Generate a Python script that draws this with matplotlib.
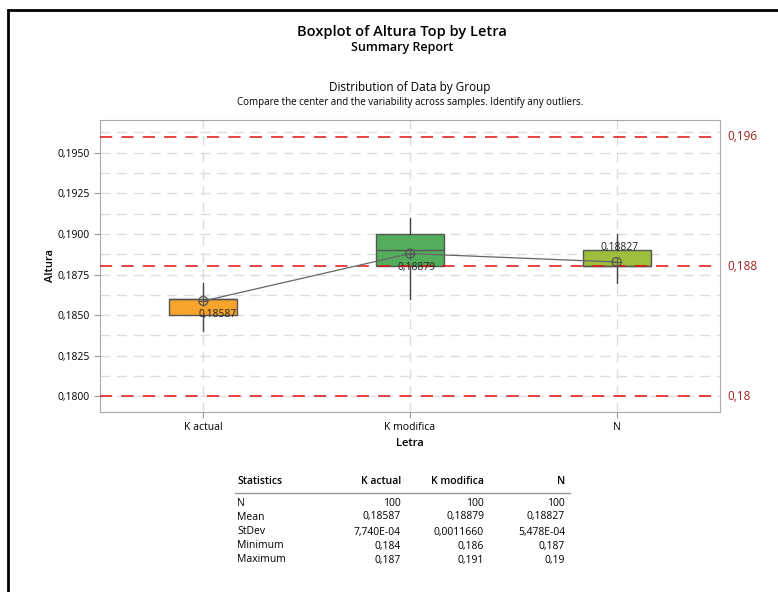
import matplotlib
matplotlib.use("Agg")
import matplotlib.pyplot as plt
from matplotlib.patches import Rectangle
from matplotlib.ticker import FuncFormatter, MultipleLocator

plt.rcParams['font.family'] = ['Open Sans', 'DejaVu Sans']

# data
groups = ["K actual", "K modifica", "N"]
q1 = [0.185, 0.188, 0.188]
med = [0.186, 0.189, 0.188]
q3 = [0.186, 0.190, 0.189]
wlo = [0.184, 0.186, 0.187]
whi = [0.187, 0.191, 0.190]
means = [0.18587, 0.18879, 0.18827]
mean_labels = ["0,18587", "0,18879", "0,18827"]
box_colors = ["#F6A42C", "#52AE5A", "#9DBE3C"]
ref_lines = [0.196, 0.188, 0.18]
ref_labels = ["0,196", "0,188", "0,18"]

stat_rows = ["N", "Mean", "StDev", "Minimum", "Maximum"]
stat_cols = {
    "K actual": ["100", "0,18587", "7,740E-04", "0,184", "0,187"],
    "K modifica": ["100", "0,18879", "0,0011660", "0,186", "0,191"],
    "N": ["100", "0,18827", "5,478E-04", "0,187", "0,19"],
}

W, H = 778, 592
fig = plt.figure(figsize=(W / 100, H / 100), dpi=100)

# outer frame
fig.patches.append(Rectangle((8 / W, -0.05), 1.2, (H - 10) / H + 0.05,
                             transform=fig.transFigure, fill=False,
                             edgecolor="black", linewidth=2))

fig.text(402 / W, 1 - 32 / H, "Boxplot of Altura Top by Letra", ha="center",
         va="center", fontsize=10.5, fontweight="semibold")
fig.text(402 / W, 1 - 47 / H, "Summary Report", ha="center", va="center",
         fontsize=9, fontweight="semibold")
fig.text(410 / W, 1 - 88 / H, "Distribution of Data by Group", ha="center",
         va="center", fontsize=8.5)
fig.text(410 / W, 1 - 102 / H,
         "Compare the center and the variability across samples. Identify any outliers.",
         ha="center", va="center", fontsize=7)

left, right, top, bottom = 100, 720, 120, 412
ax = fig.add_axes([left / W, 1 - bottom / H, (right - left) / W, (bottom - top) / H])

x = list(range(len(groups)))
stats = []
for i in range(len(groups)):
    stats.append(dict(med=med[i], q1=q1[i], q3=q3[i], whislo=wlo[i], whishi=whi[i]))
bp = ax.bxp(stats, positions=x, widths=0.33, showfliers=False, showcaps=False,
            patch_artist=True,
            boxprops=dict(edgecolor="#555555", linewidth=1),
            medianprops=dict(color="#555555", linewidth=1),
            whiskerprops=dict(color="#444444", linewidth=1))
for patch, c in zip(bp["boxes"], box_colors):
    patch.set_facecolor(c)

ax.plot(x, means, color="#666666", linewidth=0.9, zorder=4)
ax.scatter(x, means, s=42, facecolors="none", edgecolors="#555555",
           linewidths=0.9, zorder=5)
ax.scatter(x, means, s=42, marker="+", color="#555555", linewidths=0.8, zorder=5)

offsets = [(0.07, -0.00082), (0.03, -0.00084), (0.015, 0.00087)]
for xi, m, lab, (dx, dy) in zip(x, means, mean_labels, offsets):
    ax.text(xi + dx, m + dy, lab, ha="center", va="center", fontsize=7.5,
            color="#222222", zorder=6)

for r, lab in zip(ref_lines, ref_labels):
    ax.axhline(r, color="#E01010", linestyle=(0, (8, 6)), linewidth=1.1, zorder=3)
    ax.text(1.012, r, lab, transform=ax.get_yaxis_transform(), ha="left",
            va="center", fontsize=8.5, color="#A02020")

ax.set_xlim(-0.5, 2.5)
ax.set_ylim(0.17903, 0.19702)
ax.yaxis.set_major_locator(MultipleLocator(0.0025))
ax.yaxis.set_minor_locator(MultipleLocator(0.00125))
ax.yaxis.set_major_formatter(FuncFormatter(lambda v, p: f"{v:.4f}".replace(".", ",")))
ax.set_xticks(x)
ax.set_xticklabels(groups)
ax.tick_params(axis="both", labelsize=7.5, color="#999999", length=4)
ax.tick_params(axis="y", which="minor", length=0)
ax.grid(True, which="both", axis="y", color="#DDDDDD", linestyle=(0, (7, 5)), linewidth=1)
ax.grid(True, which="major", axis="x", color="#DDDDDD", linestyle=(0, (7, 5)), linewidth=1)
ax.set_axisbelow(True)
for s in ax.spines.values():
    s.set_color("#AAAAAA")
ax.set_ylabel("Altura", fontsize=8, fontweight="semibold", labelpad=1)
ax.set_xlabel("Letra", fontsize=8, fontweight="semibold", labelpad=3)

# statistics table
fs = 7.5
fig.text(237 / W, 1 - 482 / H, "Statistics", ha="left", va="center",
         fontsize=fs, fontweight="semibold")
col_x = [401, 484, 565]
for cx, name in zip(col_x, stat_cols):
    fig.text(cx / W, 1 - 482 / H, name, ha="right", va="center",
             fontsize=fs, fontweight="semibold")
fig.add_artist(plt.Line2D([235 / W, 570 / W], [1 - 493 / H, 1 - 493 / H],
                          color="#999999", linewidth=1))
row_y = [503, 517, 532, 546, 560]
for ry, rname in zip(row_y, stat_rows):
    fig.text(237 / W, 1 - ry / H, rname, ha="left", va="center", fontsize=fs)
for (name, vals), cx in zip(stat_cols.items(), col_x):
    for ry, v in zip(row_y, vals):
        fig.text(cx / W, 1 - ry / H, v, ha="right", va="center", fontsize=fs)

fig.savefig("out.png", dpi=100)
